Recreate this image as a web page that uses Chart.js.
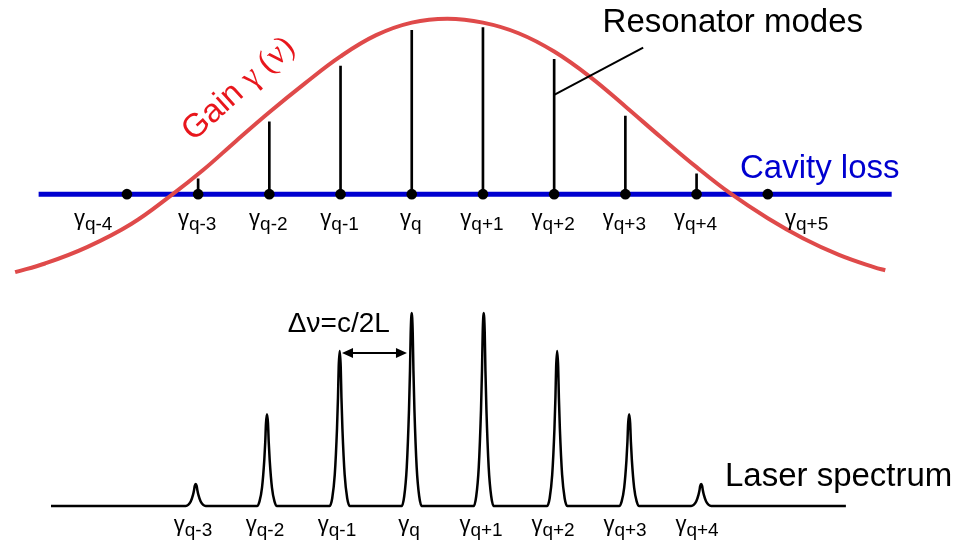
<!DOCTYPE html>
<html>
<head>
<meta charset="utf-8">
<script src="https://cdn.jsdelivr.net/npm/chart.js@4.4.1/dist/chart.umd.min.js"></script>
<style>
  html, body { margin: 0; padding: 0; background: #fff; }
  #wrap { position: relative; width: 958px; height: 548px; overflow: hidden; }
  #wrap canvas { position: absolute; left: 0; }
  #gainChart { top: 0; }
  #specChart { top: 290px; }
</style>
</head>
<body>
<div id="wrap">
  <canvas id="gainChart" width="958" height="290"></canvas>
  <canvas id="specChart" width="958" height="258"></canvas>
</div>
<script>
// x is measured in mode spacings (c/2L), 0 = mode q

// === Gain / loss panel ===
const modeNums   = [-4, -3, -2, -1, 0, 1, 2, 3, 4, 5];
const modeLabels = ['q-4', 'q-3', 'q-2', 'q-1', 'q', 'q+1', 'q+2', 'q+3', 'q+4', 'q+5'];
const modeGain   = [null, 1.10, 1.69, 2.27, 2.64, 2.67, 2.34, 1.75, 1.15, null];
const cavityLoss = 0.94;
const lossFrom = -5.24, lossTo = 6.74;

const gainNu    = [-5.57, -5.15, -4.56, -3.94, -3.375, -2.93, -2.47, -2.0, -1.5, -1.0, -0.5, 0, 0.5,
                   1.0, 1.5, 2.0, 2.5, 3.0, 3.5, 4.0, 4.47, 5.0, 5.5, 6.0, 6.5, 6.65];
const gainLevel = [0.13, 0.22, 0.39, 0.63, 0.93, 1.19, 1.49, 1.79, 2.09, 2.37, 2.59, 2.72, 2.76,
                   2.72, 2.61, 2.42, 2.16, 1.85, 1.53, 1.22, 0.95, 0.69, 0.48, 0.31, 0.18, 0.15];

const leaderNu = [2.0, 3.25];
const leaderLevel = [1.97, 2.46];

// === Laser spectrum panel ===
const peakNu     = [-2.99, -2.0, -0.99, 0.01, 1.01, 2.03, 3.03, 4.03];
const peakLabels = ['q-3', 'q-2', 'q-1', 'q', 'q+1', 'q+2', 'q+3', 'q+4'];
const peakHeight = [0.114, 0.475, 0.803, 1.0, 1.0, 0.803, 0.475, 0.114];
// line shape of one mode, relative to its centre and height
const shapeDx    = [-0.139, -0.104, -0.069, -0.0375, -0.024, -0.014, 0, 0.014, 0.024, 0.0375, 0.069, 0.104, 0.139];
const shapeLevel = [0, 0.05, 0.2, 0.5, 0.7, 0.9, 1, 0.9, 0.7, 0.5, 0.2, 0.05, 0];
const baseFrom = -5.0, baseTo = 6.04;
const fsrArrow = [-0.958, -0.056];
const fsrLevel = 0.793;

const X_MIN = -5.708, X_MAX = 7.597;
const SANS = '"Liberation Sans", Arial, sans-serif';
const SERIF = '"Liberation Serif", "Times New Roman", serif';

function gammaLabel(ctx, cx, yG, ySub, sub) {
  ctx.font = '22px ' + SANS;
  const wG = ctx.measureText('γ').width;
  ctx.font = '19px ' + SANS;
  const wS = ctx.measureText(sub).width;
  const left = cx - (wG + wS) / 2;
  ctx.font = '22px ' + SANS;
  ctx.fillText('γ', left, yG);
  ctx.font = '19px ' + SANS;
  ctx.fillText(sub, left + wG, ySub);
}

const hiddenScales = (ymin, ymax) => ({
  x: { type: 'linear', min: X_MIN, max: X_MAX, display: false, offset: false },
  y: { type: 'linear', min: ymin, max: ymax, display: false }
});

const baseOpts = (ymin, ymax) => ({
  responsive: false,
  animation: false,
  devicePixelRatio: 1,
  layout: { padding: 0 },
  plugins: { legend: { display: false }, tooltip: { enabled: false } },
  scales: hiddenScales(ymin, ymax)
});

const gainNotes = {
  id: 'gainNotes',
  afterDatasetsDraw(chart) {
    const { ctx, scales: { x, y } } = chart;
    ctx.save();
    ctx.textBaseline = 'alphabetic';
    ctx.fillStyle = '#000';
    const yLoss = y.getPixelForValue(cavityLoss);
    modeNums.forEach((m, i) => {
      let lx = m;
      if (i === 0) lx -= 0.46;
      if (i === modeNums.length - 1) lx += 0.56;
      gammaLabel(ctx, x.getPixelForValue(lx) - 1, yLoss + 31, yLoss + 36, modeLabels[i]);
    });

    ctx.font = '33px ' + SANS;
    ctx.fillText('Resonator modes', x.getPixelForValue(2.68), y.getPixelForValue(2.62));
    ctx.fillStyle = '#0000d0';
    ctx.fillText('Cavity loss', x.getPixelForValue(4.61), y.getPixelForValue(1.11));

    // rotated gain label
    ctx.translate(x.getPixelForValue(-3.07), y.getPixelForValue(1.48));
    ctx.rotate(-42 * Math.PI / 180);
    ctx.fillStyle = '#e8161c';
    ctx.font = '33px ' + SANS;
    ctx.fillText('Gain', 0, 0);
    const off = ctx.measureText('Gain ').width;
    ctx.font = '33px ' + SERIF;
    ctx.fillText('γ (ν)', off, 0);
    ctx.restore();
  }
};

new Chart(document.getElementById('gainChart'), {
  type: 'line',
  data: {
    datasets: [
      {
        label: 'leader',
        data: leaderNu.map((v, i) => ({ x: v, y: leaderLevel[i] })),
        borderColor: '#000', borderWidth: 2, pointRadius: 0, order: 0
      },
      {
        label: 'modes',
        data: modeNums.map(m => ({ x: m, y: cavityLoss })),
        showLine: false, pointRadius: 5.3, pointBackgroundColor: '#000',
        pointBorderWidth: 0, order: 1
      },
      {
        label: 'gain',
        data: gainNu.map((v, i) => ({ x: v, y: gainLevel[i] })),
        borderColor: '#df4a4a', borderWidth: 4, pointRadius: 0,
        tension: 0.4, order: 2
      },
      {
        type: 'bar',
        label: 'mode gain',
        data: modeNums.map((m, i) => modeGain[i] == null ? null : { x: m, y: [cavityLoss, modeGain[i]] }).filter(Boolean),
        backgroundColor: '#000', barThickness: 2, borderWidth: 0, order: 3
      },
      {
        label: 'loss',
        data: [{ x: lossFrom, y: cavityLoss }, { x: lossTo, y: cavityLoss }],
        borderColor: '#0000d0', borderWidth: 5, pointRadius: 0, order: 4
      }
    ]
  },
  options: baseOpts(0, 2.9),
  plugins: [gainNotes]
});

// spectrum line: flat baseline with one narrow line per lasing mode
const specPoints = [{ x: baseFrom, y: 0 }];
peakNu.forEach((c, i) => {
  shapeDx.forEach((d, j) => specPoints.push({ x: c + d, y: shapeLevel[j] * peakHeight[i] }));
});
specPoints.push({ x: baseTo, y: 0 });

const specNotes = {
  id: 'specNotes',
  afterDatasetsDraw(chart) {
    const { ctx, scales: { x, y } } = chart;
    ctx.save();
    ctx.fillStyle = '#000';
    ctx.strokeStyle = '#000';
    const yBase = y.getPixelForValue(0);
    peakNu.forEach((c, i) => {
      gammaLabel(ctx, x.getPixelForValue(Math.round(c)) - 2, yBase + 25, yBase + 30, peakLabels[i]);
    });

    // free spectral range arrow
    const ay = y.getPixelForValue(fsrLevel);
    const x1 = x.getPixelForValue(fsrArrow[0]), x2 = x.getPixelForValue(fsrArrow[1]);
    ctx.lineWidth = 2;
    ctx.beginPath();
    ctx.moveTo(x1 + 8, ay); ctx.lineTo(x2 - 8, ay);
    ctx.stroke();
    ctx.beginPath();
    ctx.moveTo(x1, ay); ctx.lineTo(x1 + 11, ay - 5); ctx.lineTo(x1 + 11, ay + 5); ctx.closePath();
    ctx.moveTo(x2, ay); ctx.lineTo(x2 - 11, ay - 5); ctx.lineTo(x2 - 11, ay + 5); ctx.closePath();
    ctx.fill();

    ctx.font = '28px ' + SANS;
    ctx.fillText('Δν=c/2L', x.getPixelForValue(-1.71), y.getPixelForValue(0.90));
    ctx.font = '33px ' + SANS;
    ctx.fillText('Laser spectrum', x.getPixelForValue(4.36), y.getPixelForValue(0.104));
    ctx.restore();
  }
};

new Chart(document.getElementById('specChart'), {
  type: 'line',
  data: {
    datasets: [{
      label: 'spectrum',
      data: specPoints,
      borderColor: '#000', borderWidth: 2.5, pointRadius: 0,
      cubicInterpolationMode: 'monotone', borderJoinStyle: 'round'
    }]
  },
  options: baseOpts(-0.218, 1.119),
  plugins: [specNotes]
});
</script>
</body>
</html>
